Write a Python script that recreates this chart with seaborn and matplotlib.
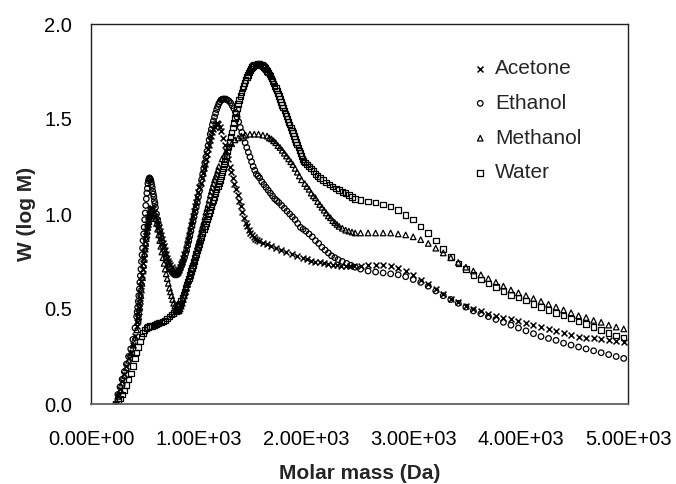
import matplotlib
matplotlib.use("Agg")
import matplotlib.pyplot as plt
import seaborn as sns
import pandas as pd

# ---------------- data ----------------
# (molar mass, W) points, low/mid molar-mass part of each curve
acetone_pts = [
    (230, 0.00), (250, 0.04), (270, 0.08), (290, 0.12), (310, 0.16), (330, 0.20),
    (350, 0.24), (370, 0.27), (390, 0.31), (410, 0.36), (425, 0.41), (430, 0.43),
    (435, 0.455), (440, 0.48), (445, 0.505), (450, 0.53), (455, 0.56), (460, 0.59),
    (465, 0.62), (470, 0.65), (475, 0.68), (480, 0.71), (485, 0.74), (490, 0.77),
    (495, 0.80), (500, 0.83), (505, 0.86), (510, 0.885), (515, 0.91), (520, 0.93),
    (525, 0.95), (530, 0.97), (535, 0.985), (540, 1.00), (545, 1.01), (550, 1.02),
    (555, 1.025), (560, 1.03), (570, 1.03), (580, 1.025), (590, 1.01), (600, 0.99),
    (610, 0.97), (620, 0.95), (630, 0.93), (640, 0.91), (650, 0.89), (660, 0.87),
    (670, 0.85), (680, 0.83), (690, 0.81), (700, 0.79), (710, 0.77), (720, 0.755),
    (730, 0.74), (740, 0.73), (750, 0.72), (760, 0.71), (770, 0.70), (780, 0.695),
    (790, 0.69), (800, 0.69), (810, 0.695), (820, 0.705), (830, 0.72), (840, 0.735),
    (850, 0.75), (860, 0.77), (870, 0.79), (880, 0.815), (890, 0.84), (900, 0.865),
    (910, 0.89), (920, 0.915), (930, 0.94), (940, 0.965), (950, 0.99), (960, 1.015),
    (970, 1.04), (980, 1.065), (990, 1.09), (1000, 1.115), (1010, 1.14), (1020, 1.165),
    (1030, 1.19), (1040, 1.215), (1050, 1.24), (1060, 1.265), (1070, 1.29),
    (1080, 1.315), (1090, 1.34), (1100, 1.365), (1110, 1.39), (1120, 1.41),
    (1130, 1.43), (1140, 1.445), (1150, 1.46), (1160, 1.472), (1170, 1.48),
    (1185, 1.475), (1200, 1.46), (1215, 1.435), (1230, 1.40), (1245, 1.365),
    (1260, 1.33), (1275, 1.29), (1290, 1.25), (1305, 1.22), (1320, 1.19),
    (1335, 1.16), (1350, 1.13), (1365, 1.10), (1380, 1.07), (1395, 1.04),
    (1410, 1.01), (1425, 0.98), (1440, 0.955), (1455, 0.935), (1470, 0.915),
    (1485, 0.90), (1500, 0.89), (1515, 0.88), (1530, 0.87), (1545, 0.865),
    (1560, 0.86), (1600, 0.85), (1640, 0.84), (1680, 0.83), (1720, 0.82),
    (1770, 0.81), (1820, 0.80), (1870, 0.79), (1920, 0.78), (1970, 0.77),
    (2010, 0.765), (2050, 0.755), (2090, 0.75), (2130, 0.745), (2170, 0.74),
    (2210, 0.735), (2250, 0.73), (2290, 0.73), (2330, 0.725), (2370, 0.725),
    (2410, 0.725), (2450, 0.725),
]

ethanol_pts = [
    (230, 0.00), (250, 0.05), (270, 0.09), (290, 0.13), (310, 0.17), (330, 0.21),
    (350, 0.25), (370, 0.29), (390, 0.34), (410, 0.40), (425, 0.46), (430, 0.485),
    (435, 0.51), (440, 0.54), (445, 0.57), (450, 0.605), (455, 0.64), (460, 0.675),
    (465, 0.71), (470, 0.75), (475, 0.785), (480, 0.82), (485, 0.86), (490, 0.895),
    (495, 0.93), (500, 0.97), (505, 1.005), (510, 1.045), (515, 1.08), (520, 1.11),
    (525, 1.135), (530, 1.16), (535, 1.175), (540, 1.185), (545, 1.19), (550, 1.185),
    (555, 1.18), (560, 1.17), (565, 1.155), (570, 1.14), (575, 1.12), (580, 1.105),
    (585, 1.09), (590, 1.07), (595, 1.055), (600, 1.035), (610, 1.00), (620, 0.97),
    (630, 0.94), (640, 0.91), (650, 0.88), (660, 0.855), (670, 0.83), (680, 0.81),
    (690, 0.79), (700, 0.77), (710, 0.75), (720, 0.735), (730, 0.72), (740, 0.71),
    (750, 0.70), (760, 0.69), (770, 0.685), (780, 0.68), (790, 0.68), (800, 0.68),
    (810, 0.69), (820, 0.70), (830, 0.71), (840, 0.725), (850, 0.74), (860, 0.755),
    (870, 0.77), (880, 0.79), (890, 0.81), (900, 0.835), (910, 0.86), (920, 0.885),
    (930, 0.91), (940, 0.935), (950, 0.96), (960, 0.985), (970, 1.01), (980, 1.035),
    (990, 1.06), (1000, 1.09), (1010, 1.12), (1020, 1.15), (1030, 1.18), (1040, 1.21),
    (1050, 1.24), (1060, 1.27), (1070, 1.30), (1080, 1.33), (1090, 1.36), (1100, 1.39),
    (1110, 1.42), (1120, 1.445), (1130, 1.47), (1140, 1.49), (1150, 1.51),
    (1160, 1.53), (1170, 1.55), (1180, 1.565), (1190, 1.58), (1200, 1.59),
    (1210, 1.60), (1220, 1.603), (1230, 1.605), (1240, 1.605), (1255, 1.605),
    (1270, 1.60), (1285, 1.595), (1300, 1.585), (1315, 1.57), (1330, 1.555),
    (1345, 1.535), (1360, 1.51), (1375, 1.485), (1390, 1.455), (1405, 1.43),
    (1420, 1.40), (1435, 1.375), (1450, 1.35), (1465, 1.325), (1480, 1.30),
    (1495, 1.275), (1510, 1.25), (1525, 1.23), (1540, 1.21), (1555, 1.20),
    (1570, 1.19), (1590, 1.17), (1610, 1.155), (1630, 1.14), (1650, 1.125),
    (1670, 1.11), (1690, 1.095), (1710, 1.08), (1730, 1.07), (1750, 1.06),
    (1775, 1.045), (1800, 1.03), (1825, 1.015), (1850, 1.00), (1875, 0.985),
    (1900, 0.97), (1925, 0.95), (1950, 0.93), (1975, 0.92), (2000, 0.91),
    (2030, 0.895), (2060, 0.88), (2090, 0.86), (2120, 0.845), (2150, 0.825),
    (2180, 0.81), (2210, 0.795), (2240, 0.78), (2270, 0.77), (2300, 0.76),
    (2340, 0.75), (2380, 0.74), (2420, 0.73), (2460, 0.72),
]

methanol_pts = [
    (230, 0.00), (250, 0.04), (270, 0.07), (290, 0.11), (310, 0.15), (330, 0.19),
    (350, 0.23), (370, 0.27), (390, 0.31), (410, 0.35), (425, 0.39), (440, 0.44),
    (445, 0.46), (450, 0.485), (455, 0.51), (460, 0.54), (465, 0.57), (470, 0.60),
    (475, 0.635), (480, 0.665), (485, 0.70), (490, 0.73), (495, 0.76), (500, 0.79),
    (505, 0.815), (510, 0.845), (515, 0.87), (520, 0.89), (525, 0.91), (530, 0.93),
    (535, 0.945), (540, 0.96), (545, 0.975), (550, 0.99), (555, 1.00), (560, 1.01),
    (570, 1.02), (580, 1.02), (590, 1.00), (600, 0.975), (610, 0.95), (620, 0.92),
    (630, 0.89), (640, 0.86), (650, 0.83), (660, 0.80), (670, 0.77), (680, 0.74),
    (690, 0.71), (700, 0.685), (710, 0.66), (720, 0.635), (730, 0.61), (740, 0.59),
    (750, 0.57), (760, 0.55), (770, 0.53), (780, 0.515), (790, 0.50), (800, 0.495),
    (810, 0.49), (820, 0.49), (830, 0.50), (840, 0.515), (850, 0.53), (860, 0.55),
    (870, 0.57), (880, 0.59), (890, 0.61), (900, 0.63), (910, 0.65), (920, 0.67),
    (930, 0.69), (940, 0.715), (950, 0.74), (960, 0.76), (970, 0.78), (980, 0.805),
    (990, 0.83), (1000, 0.85), (1010, 0.87), (1020, 0.895), (1030, 0.92),
    (1040, 0.94), (1050, 0.96), (1060, 0.985), (1070, 1.01), (1080, 1.03),
    (1090, 1.05), (1100, 1.075), (1110, 1.10), (1120, 1.12), (1130, 1.14),
    (1140, 1.16), (1150, 1.18), (1160, 1.195), (1170, 1.21), (1180, 1.23),
    (1190, 1.25), (1220, 1.29), (1250, 1.32), (1280, 1.35), (1310, 1.37),
    (1340, 1.39), (1370, 1.40), (1400, 1.41), (1440, 1.415), (1480, 1.42),
    (1520, 1.42), (1560, 1.42), (1600, 1.415), (1640, 1.41), (1660, 1.40),
    (1680, 1.395), (1700, 1.385), (1720, 1.375), (1740, 1.36), (1760, 1.35),
    (1780, 1.335), (1800, 1.32), (1820, 1.305), (1840, 1.29), (1860, 1.275),
    (1880, 1.26), (1900, 1.24), (1920, 1.22), (1940, 1.20), (1960, 1.18),
    (1990, 1.16), (2010, 1.145), (2030, 1.13), (2050, 1.11), (2070, 1.095),
    (2090, 1.085), (2110, 1.065), (2130, 1.05), (2150, 1.035), (2170, 1.02),
    (2190, 1.005), (2210, 0.99), (2230, 0.98), (2250, 0.965), (2270, 0.955),
    (2290, 0.945), (2310, 0.935), (2340, 0.925), (2370, 0.915), (2400, 0.91),
    (2430, 0.905), (2460, 0.90),
]

water_pts = [
    (230, 0.00), (250, 0.02), (270, 0.03), (290, 0.05), (310, 0.07), (330, 0.10),
    (350, 0.13), (370, 0.16), (390, 0.20), (410, 0.24), (425, 0.27), (440, 0.30),
    (455, 0.33), (470, 0.355), (485, 0.375), (500, 0.39), (515, 0.40), (530, 0.405),
    (550, 0.41), (570, 0.41), (590, 0.415), (610, 0.42), (630, 0.425), (650, 0.43),
    (670, 0.435), (690, 0.44), (710, 0.45), (730, 0.46), (750, 0.47), (770, 0.48),
    (790, 0.49), (800, 0.50), (810, 0.51), (820, 0.52), (830, 0.53), (840, 0.545),
    (850, 0.56), (860, 0.575), (870, 0.59), (880, 0.61), (890, 0.63), (900, 0.645),
    (910, 0.66), (920, 0.68), (930, 0.70), (940, 0.715), (950, 0.73), (960, 0.75),
    (970, 0.77), (980, 0.79), (990, 0.81), (1000, 0.825), (1010, 0.84), (1020, 0.86),
    (1030, 0.88), (1040, 0.90), (1050, 0.92), (1060, 0.935), (1070, 0.95),
    (1080, 0.97), (1090, 0.99), (1100, 1.005), (1110, 1.02), (1120, 1.04),
    (1130, 1.06), (1140, 1.075), (1150, 1.09), (1160, 1.11), (1170, 1.13),
    (1180, 1.145), (1190, 1.16), (1200, 1.18), (1210, 1.20), (1220, 1.22),
    (1230, 1.24), (1240, 1.26), (1250, 1.28), (1260, 1.305), (1270, 1.33),
    (1280, 1.355), (1290, 1.38), (1300, 1.405), (1310, 1.43), (1320, 1.455),
    (1330, 1.48), (1340, 1.505), (1350, 1.53), (1360, 1.555), (1370, 1.58),
    (1380, 1.60), (1390, 1.62), (1400, 1.64), (1410, 1.66), (1420, 1.675),
    (1430, 1.69), (1440, 1.705), (1450, 1.72), (1460, 1.733), (1470, 1.745),
    (1480, 1.755), (1490, 1.765), (1500, 1.773), (1510, 1.78), (1520, 1.783),
    (1530, 1.785), (1540, 1.788), (1550, 1.79), (1560, 1.79), (1570, 1.79),
    (1580, 1.788), (1590, 1.785), (1600, 1.78), (1610, 1.775), (1620, 1.768),
    (1630, 1.76), (1640, 1.753), (1650, 1.745), (1660, 1.735), (1670, 1.725),
    (1680, 1.713), (1690, 1.70), (1700, 1.688), (1710, 1.675), (1720, 1.663),
    (1730, 1.65), (1740, 1.635), (1750, 1.62), (1760, 1.605), (1770, 1.59),
    (1780, 1.575), (1790, 1.56), (1800, 1.545), (1810, 1.53), (1820, 1.515),
    (1830, 1.50), (1840, 1.485), (1850, 1.47), (1860, 1.455), (1870, 1.44),
    (1880, 1.425), (1890, 1.41), (1900, 1.395), (1910, 1.38), (1920, 1.365),
    (1930, 1.35), (1940, 1.335), (1950, 1.32), (1960, 1.305), (1970, 1.29),
    (1980, 1.28), (1990, 1.27), (2010, 1.26), (2030, 1.25), (2050, 1.24),
    (2070, 1.225), (2090, 1.21), (2110, 1.20), (2130, 1.19), (2160, 1.18),
    (2190, 1.165), (2220, 1.155), (2250, 1.145), (2280, 1.135), (2310, 1.125),
    (2340, 1.115), (2370, 1.11), (2400, 1.10), (2430, 1.09), (2460, 1.08),
]

# high molar-mass tail, shared molar-mass positions
TAIL_M = [2510, 2580, 2650, 2720, 2790, 2860, 2930, 3000, 3070, 3140, 3210, 3280,
          3350, 3420, 3490, 3560, 3630, 3700, 3770, 3840, 3910, 3980, 4050, 4120,
          4190, 4260, 4330, 4400, 4470, 4540, 4610, 4680, 4750, 4820, 4890, 4960]
acetone_tail = [0.725, 0.73, 0.73, 0.73, 0.725, 0.715, 0.70, 0.68, 0.655, 0.63,
                0.605, 0.58, 0.555, 0.535, 0.515, 0.50, 0.49, 0.475, 0.465, 0.455,
                0.445, 0.435, 0.425, 0.415, 0.405, 0.395, 0.385, 0.375, 0.365,
                0.355, 0.35, 0.345, 0.34, 0.335, 0.33, 0.325]
ethanol_tail = [0.71, 0.70, 0.695, 0.69, 0.685, 0.68, 0.67, 0.655, 0.64, 0.62, 0.595,
                0.57, 0.55, 0.53, 0.51, 0.49, 0.475, 0.46, 0.445, 0.43, 0.415, 0.40,
                0.385, 0.37, 0.355, 0.345, 0.335, 0.32, 0.31, 0.30, 0.29, 0.28,
                0.27, 0.26, 0.25, 0.24]
methanol_tail = [0.90, 0.90, 0.90, 0.90, 0.90, 0.895, 0.89, 0.88, 0.865, 0.845,
                 0.82, 0.795, 0.77, 0.745, 0.72, 0.70, 0.68, 0.66, 0.64, 0.62, 0.60,
                 0.585, 0.57, 0.555, 0.54, 0.525, 0.51, 0.495, 0.48, 0.465, 0.455,
                 0.44, 0.43, 0.415, 0.405, 0.395]
water_tail = [1.075, 1.065, 1.06, 1.05, 1.04, 1.02, 0.995, 0.97, 0.935, 0.90, 0.86,
              0.815, 0.775, 0.74, 0.71, 0.68, 0.655, 0.635, 0.615, 0.595, 0.575,
              0.56, 0.545, 0.525, 0.51, 0.495, 0.48, 0.465, 0.45, 0.435, 0.42,
              0.405, 0.39, 0.375, 0.36, 0.35]

solvents = ["Acetone", "Ethanol", "Methanol", "Water"]
x_ticks = [0, 1000, 2000, 3000, 4000, 5000]
x_tick_labels = ["0.00E+00", "1.00E+03", "2.00E+03", "3.00E+03", "4.00E+03", "5.00E+03"]
y_ticks = [0.0, 0.5, 1.0, 1.5, 2.0]
y_tick_labels = ["0.0", "0.5", "1.0", "1.5", "2.0"]

# ---------------- styling ----------------
sns.set_style("white")
plt.rcParams["font.family"] = ["Liberation Sans", "DejaVu Sans"]

series = {
    "Acetone": (acetone_pts, acetone_tail, "x"),
    "Ethanol": (ethanol_pts, ethanol_tail, "o"),
    "Methanol": (methanol_pts, methanol_tail, "^"),
    "Water": (water_pts, water_tail, "s"),
}

fig = plt.figure(figsize=(6.76, 4.84), dpi=100)
ax = fig.add_axes([91 / 676, 80 / 484, 537 / 676, 380 / 484])

for name in solvents:
    pts, tail, mk = series[name]
    df = pd.DataFrame(pts, columns=["M", "W"])
    df = pd.concat([df, pd.DataFrame({"M": TAIL_M, "W": tail})], ignore_index=True)
    if mk == "x":
        sns.scatterplot(data=df, x="M", y="W", marker=mk, s=18, color="black",
                        linewidth=1.1, ax=ax, label=name)
    else:
        sns.scatterplot(data=df, x="M", y="W", marker=mk, s=16, color="black",
                        facecolor="none", edgecolor="black", linewidth=0.9,
                        ax=ax, label=name)

ax.set_xlim(0, 5000)
ax.set_ylim(0, 2.0)
ax.set_xticks(x_ticks)
ax.set_xticklabels(x_tick_labels)
ax.set_yticks(y_ticks)
ax.set_yticklabels(y_tick_labels)
ax.tick_params(axis="both", which="major", direction="out", length=4.5, width=0.8,
               color="#808080", labelsize=14.5, labelcolor="black")
ax.tick_params(axis="x", pad=14)
ax.tick_params(axis="y", pad=9)
ax.set_xlabel("Molar mass (Da)", fontsize=15, fontweight="bold", labelpad=11)
ax.set_ylabel("W (log M)", fontsize=15, fontweight="bold", labelpad=6)

for side in ["left", "top", "right"]:
    ax.spines[side].set_color("#202020")
    ax.spines[side].set_linewidth(1.0)
ax.spines["bottom"].set_color("#606060")
ax.spines["bottom"].set_linewidth(1.3)

leg = ax.legend(loc="upper left", bbox_to_anchor=(474 / 676, 1 - 59 / 484),
                bbox_transform=fig.transFigure, frameon=False, fontsize=15,
                handlelength=0.6, handletextpad=0.4, labelspacing=0.76,
                borderpad=0, borderaxespad=0, markerscale=1.0)

fig.savefig("out.png", dpi=100)
